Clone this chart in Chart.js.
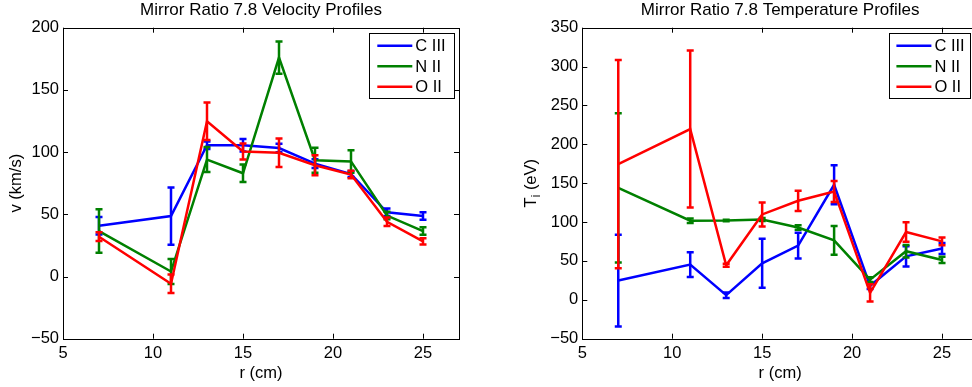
<!DOCTYPE html>
<html><head><meta charset="utf-8">
<script src="https://cdn.jsdelivr.net/npm/chart.js@4.4.1/dist/chart.umd.min.js"></script>
<style>
html,body{margin:0;padding:0;background:#fff;overflow:hidden;width:972px;height:387px;position:relative;}
canvas{position:absolute;top:0;}
#c1{left:0;} #c2{left:490px;}
</style></head><body>
<canvas id="c1" width="486" height="387"></canvas>
<canvas id="c2" width="500" height="387"></canvas>
<script>
// ---- data ----
const radius = [7, 11, 13, 15, 17, 19, 21, 23, 25];
const seriesNames = ['C III', 'N II', 'O II'];

const velCIII = [40.8, 48.6, 105.5, 105.5, 103.3, 90.7, 82.4, 51.6, 48.6];
const velCIIIErr = [7, 23, 3, 5, 3.5, 3.5, 2.5, 3, 3];
const velNII = [36.5, 4, 94, 83, 176, 93.5, 92.5, 49, 36.5];
const velNIIErr = [17.5, 10, 10, 7, 13, 10, 9, 3, 3];
const velOII = [32, -5.8, 124.8, 100.5, 99.5, 89.4, 82, 44, 28.3];
const velOIIErr = [3.5, 7.5, 15, 6.5, 11.5, 8, 3, 3.5, 2.5];

const tempCIII = [24.8, 45.3, 6, 47, 69.7, 148, 18, 56, 66];
const tempCIIIErr = [59, 16, 3.5, 31.6, 16.7, 25, 4, 13, 7];
const tempNII = [144, 101.7, 102, 103.4, 93, 76.5, 26, 62.5, 51.3];
const tempNIIErr = [96, 3, 1, 2, 3, 18.6, 3, 8, 4];
const tempOII = [174.5, 219.6, 44.4, 109.8, 127.4, 139.4, 9, 87.2, 75.2];
const tempOIIErr = [134, 101, 2, 15.4, 13, 13.5, 11, 12.6, 5];

const xTickValues = [5, 10, 15, 20, 25];
const velTickValues = [-50, 0, 50, 100, 150, 200];
const tempTickValues = [-50, 0, 50, 100, 150, 200, 250, 300, 350];

// ---- styling ----
const FAM = '"Liberation Sans", Arial, Helvetica, sans-serif';
const COLORS = ['#0000ff', '#008000', '#ff0000'];
const LW = 2.5;
const FS = 16.5;

function fmt(v){ return String(v).replace('-', '\u2212'); }

function makeDatasets(vals, errs){
  return vals.map((arr, i) => ({
    label: seriesNames[i],
    data: radius.map((x, j) => ({x: x, y: arr[j]})),
    errors: errs[i],
    borderColor: COLORS[i],
    backgroundColor: COLORS[i],
    borderWidth: LW,
    pointRadius: 0,
    tension: 0,
    fill: false,
    order: 2 - i
  }));
}

const errorBarPlugin = {
  id: 'errorBars',
  afterDatasetDraw(chart, args){
    const ds = chart.data.datasets[args.index];
    const ys = chart.scales.y, xs = chart.scales.x;
    const ctx = chart.ctx, a = chart.chartArea;
    ctx.save();
    ctx.beginPath(); ctx.rect(a.left, a.top, a.right - a.left, a.bottom - a.top); ctx.clip();
    ctx.strokeStyle = ds.borderColor; ctx.lineWidth = LW; ctx.lineCap = 'butt';
    ds.data.forEach((p, j) => {
      const e = ds.errors[j];
      const px = xs.getPixelForValue(p.x);
      const yt = ys.getPixelForValue(p.y + e), yb = ys.getPixelForValue(p.y - e);
      const cw = 3.5;
      ctx.beginPath();
      ctx.moveTo(px, yt); ctx.lineTo(px, yb);
      ctx.moveTo(px - cw, yt); ctx.lineTo(px + cw, yt);
      ctx.moveTo(px - cw, yb); ctx.lineTo(px + cw, yb);
      ctx.stroke();
    });
    ctx.restore();
  }
};

const framePlugin = {
  id: 'frame',
  afterDraw(chart, args, o){
    const ctx = chart.ctx, a = chart.chartArea;
    const xs = chart.scales.x, ys = chart.scales.y;
    ctx.save();
    // axes box
    ctx.strokeStyle = '#000'; ctx.lineWidth = 1;
    ctx.strokeRect(Math.round(a.left) + 0.5, Math.round(a.top) + 0.5, Math.round(a.right - a.left), Math.round(a.bottom - a.top));
    // inward ticks
    const tl = 5;
    ctx.beginPath();
    o.xTicks.forEach(v => {
      const px = Math.round(xs.getPixelForValue(v)) + 0.5;
      ctx.moveTo(px, a.bottom); ctx.lineTo(px, a.bottom - tl);
      ctx.moveTo(px, a.top); ctx.lineTo(px, a.top + tl);
    });
    o.yTicks.forEach(v => {
      const py = Math.round(ys.getPixelForValue(v)) + 0.5;
      ctx.moveTo(a.left, py); ctx.lineTo(a.left + tl, py);
      ctx.moveTo(a.right, py); ctx.lineTo(a.right - tl, py);
    });
    ctx.stroke();
    // title
    ctx.fillStyle = '#000';
    ctx.font = '17px ' + FAM;
    ctx.textAlign = 'center'; ctx.textBaseline = 'alphabetic';
    ctx.fillText(o.title, (a.left + a.right) / 2, 15);
    // x title
    ctx.font = FS + 'px ' + FAM;
    ctx.fillText(o.xTitle, (a.left + a.right) / 2, 378);
    // y title (rotated)
    ctx.save();
    ctx.translate(o.yTitleX, (a.top + a.bottom) / 2);
    ctx.rotate(-Math.PI / 2);
    ctx.textAlign = 'left';
    const parts = o.yTitleParts;
    let total = 0;
    parts.forEach(p => { ctx.font = (p.sub ? 12 : FS) + 'px ' + FAM; total += ctx.measureText(p.t).width; });
    let xx = -total / 2;
    parts.forEach(p => {
      ctx.font = (p.sub ? 12 : FS) + 'px ' + FAM;
      ctx.fillText(p.t, xx, p.sub ? 4 : 0);
      xx += ctx.measureText(p.t).width;
    });
    ctx.restore();
    // legend
    const L = o.legend;
    const bx = a.right - L.rightOff - L.w, by = a.top + L.topOff;
    ctx.fillStyle = '#fff';
    ctx.fillRect(bx, by, L.w, L.h);
    ctx.strokeStyle = '#000'; ctx.lineWidth = 1;
    ctx.strokeRect(Math.round(bx) + 0.5, Math.round(by) + 0.5, Math.round(L.w), Math.round(L.h));
    ctx.font = FS + 'px ' + FAM; ctx.textAlign = 'left'; ctx.textBaseline = 'middle';
    seriesNames.forEach((n, i) => {
      const ry = by + 12.5 + i * 20.5;
      ctx.strokeStyle = COLORS[i]; ctx.lineWidth = LW;
      ctx.beginPath(); ctx.moveTo(bx + L.lineOff, ry); ctx.lineTo(bx + L.lineOff + 35, ry); ctx.stroke();
      ctx.fillStyle = '#000';
      ctx.fillText(n, bx + L.lineOff + 38, ry + 1);
    });
    ctx.restore();
  }
};

function makeChart(id, vals, errs, yTicks, cfg){
  return new Chart(document.getElementById(id), {
    type: 'line',
    data: { datasets: makeDatasets(vals, errs) },
    plugins: [errorBarPlugin, framePlugin],
    options: {
      responsive: false,
      animation: false,
      events: [],
      layout: { padding: { left: 0, top: 27.7, right: cfg.padRight, bottom: 0 } },
      plugins: {
        legend: { display: false },
        title: { display: false },
        tooltip: { enabled: false },
        frame: {
          xTicks: xTickValues, yTicks: yTicks, title: cfg.title, xTitle: 'r (cm)',
          yTitleParts: cfg.yTitleParts, yTitleX: cfg.yTitleX, legend: cfg.legend
        }
      },
      scales: {
        x: {
          type: 'linear', min: 5, max: 27,
          afterBuildTicks: s => { s.ticks = xTickValues.map(v => ({value: v})); },
          afterFit: s => { s.height = 387 - 338.7; },
          grid: { display: false, drawTicks: false }, border: { display: false },
          ticks: { color: '#000', font: { family: FAM, size: FS }, padding: 5, maxRotation: 0, autoSkip: false, callback: v => fmt(v) }
        },
        y: {
          type: 'linear', min: yTicks[0], max: yTicks[yTicks.length - 1],
          afterBuildTicks: s => { s.ticks = yTicks.map(v => ({value: v})); },
          afterFit: s => { s.width = cfg.yWidth; },
          grid: { display: false, drawTicks: false }, border: { display: false },
          ticks: { color: '#000', font: { family: FAM, size: FS }, padding: 4, autoSkip: false, callback: v => fmt(v) }
        }
      }
    }
  });
}

makeChart('c1', [velCIII, velNII, velOII], [velCIIIErr, velNIIErr, velOIIErr], velTickValues, {
  padRight: 27, yWidth: 63, title: 'Mirror Ratio 7.8 Velocity Profiles',
  yTitleParts: [{t: 'v (km/s)'}], yTitleX: 21,
  legend: { w: 85, h: 65, rightOff: 4.7, topOff: 5.6, lineOff: 8 }
});
makeChart('c2', [tempCIII, tempNII, tempOII], [tempCIIIErr, tempNIIErr, tempOIIErr], tempTickValues, {
  padRight: 12, yWidth: 92.3, title: 'Mirror Ratio 7.8 Temperature Profiles',
  yTitleParts: [{t: 'T'}, {t: 'i', sub: true}, {t: ' (eV)'}], yTitleX: 46,
  legend: { w: 81, h: 65, rightOff: 8, topOff: 5.6, lineOff: 7.4 }
});
</script>
</body></html>
